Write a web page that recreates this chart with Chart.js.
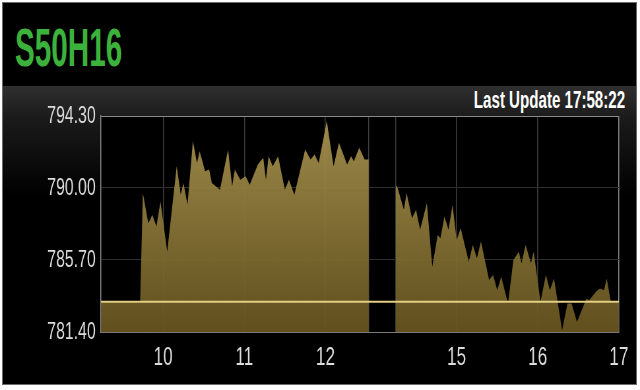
<!DOCTYPE html>
<html><head><meta charset="utf-8">
<script src="https://cdn.jsdelivr.net/npm/chart.js@4.4.1/dist/chart.umd.min.js"></script>
<style>
html,body{margin:0;padding:0;background:#fff;width:640px;height:390px;overflow:hidden;}
#panel{position:absolute;left:2px;top:2px;width:633px;height:381px;background:#000;border:1px solid #6a6a6a;}
#band{position:absolute;left:3px;top:86px;width:633px;height:110px;background:linear-gradient(#2f2f2f,#1a1a1a 30%,#000 100%);}
#title{position:absolute;left:15px;top:21px;font:bold 53px 'Liberation Sans',Arial,sans-serif;line-height:1;color:#3cb23c;transform:scaleX(0.56);transform-origin:0 0;white-space:nowrap;}
#upd{position:absolute;right:15px;top:88px;font:bold 24px 'Liberation Sans',Arial,sans-serif;line-height:1;color:#fff;transform:scaleX(0.63);transform-origin:100% 0;white-space:nowrap;}
#wrap{position:absolute;left:0;top:0;width:970px;height:390px;transform:scaleX(0.65979);transform-origin:0 0;}
</style></head>
<body>
<div id="panel"></div>
<div id="band"></div>
<div id="title">S50H16</div>
<div id="upd">Last Update 17:58:22</div>
<div id="wrap"><canvas id="c"></canvas></div>
<script>
// ---- data ----
const TIMES_AM = ["09:14","09:43","09:45","09:49","09:52","09:55","09:58","10:03","10:10","10:13","10:15","10:18","10:22","10:25","10:27","10:31","10:34","10:36","10:42","10:48","10:51","10:53","10:57","11:01","11:04","11:10","11:14","11:16","11:18","11:21","11:25","11:30","11:33","11:37","11:45","11:49","11:52","11:55","12:01","12:06","12:10","12:16","12:19","12:21","12:25","12:29","12:32"];
const PRICES_AM = [783.2,783.2,789.7,787.9,788.4,787.7,789.2,786.2,791.3,789.6,790.3,789.0,792.8,791.5,792.2,791.0,791.1,790.3,789.9,792.3,790.1,791.1,790.5,790.7,790.2,791.4,791.8,790.5,791.9,791.3,791.9,789.9,790.5,789.6,792.3,791.7,792.0,791.5,794.0,791.3,792.7,791.4,791.9,791.6,792.4,791.7,791.7];
const TIMES_PM = ["14:15","14:16","14:21","14:23","14:27","14:30","14:33","14:38","14:42","14:46","14:48","14:51","14:54","14:57","15:00","15:03","15:09","15:12","15:15","15:18","15:24","15:27","15:30","15:33","15:38","15:42","15:46","15:48","15:51","15:55","15:57","16:02","16:06","16:09","16:12","16:18","16:22","16:25","16:29","16:36","16:38","16:43","16:46","16:49","16:51","16:54","17:00"];
const PRICES_PM = [790.1,790.1,788.7,789.7,788.2,788.7,787.5,789.1,785.3,787.2,787.0,788.3,787.5,789.0,786.9,787.6,785.6,786.6,785.8,786.8,784.5,784.8,783.9,784.7,783.1,785.7,786.2,785.5,786.6,785.5,786.2,783.2,784.8,783.9,784.6,781.5,783.1,783.1,782.0,783.4,783.3,783.8,784.0,783.9,784.6,783.2,783.2];
const REF_PRICE = 783.2;
const Y_TICKS = [781.40, 785.70, 790.00, 794.30];
const X_TICK_TIMES = ["10:00","11:00","12:00","15:00","16:00","17:00"];
const X_TICK_LABELS = ["10","11","12","15","16","17"];
const BREAK_START = "12:32", BREAK_END = "14:15";
const AXIS_START = "09:14", AXIS_END = "17:00";
const BREAK_SHIFT = 83; // minutes of lunch break hidden on the axis

function toAxis(t){
  const [h,m] = t.split(":").map(Number);
  let v = h*60 + m - 540;
  if (v >= 300) v -= BREAK_SHIFT;
  return v;
}

const pricePts = [];
TIMES_AM.forEach((t,i)=>pricePts.push({x:toAxis(t), y:PRICES_AM[i]}));
pricePts.push({x:(toAxis(BREAK_START)+toAxis(BREAK_END))/2, y:null});
TIMES_PM.forEach((t,i)=>pricePts.push({x:toAxis(t), y:PRICES_PM[i]}));

const xTickVals = X_TICK_TIMES.map(toAxis).concat([toAxis(BREAK_START), toAxis(BREAK_END)]).sort((a,b)=>a-b);
const xMin = toAxis(AXIS_START), xMax = toAxis(AXIS_END);
const yMin = Y_TICKS[0], yMax = Y_TICKS[Y_TICKS.length-1];

const plotBg = {
  id:'plotBg',
  beforeDraw(chart){
    const {ctx, chartArea:a} = chart;
    ctx.save(); ctx.fillStyle = '#000';
    ctx.fillRect(a.left, a.top, a.right-a.left, a.bottom-a.top);
    ctx.restore();
  }
};

function fillGrad(ctx){
  const a = ctx.chart.chartArea;
  if (!a) return 'rgba(140,120,60,0.92)';
  const g = ctx.chart.ctx.createLinearGradient(0, a.top, 0, a.bottom);
  g.addColorStop(0, 'rgba(170,148,80,0.93)');
  g.addColorStop(1, 'rgba(104,86,32,0.93)');
  return g;
}

const FONT = "'Liberation Sans', Arial, sans-serif";

new Chart(document.getElementById('c'), {
  type: 'line',
  data: {
    datasets: [
      { data: [{x:xMin, y:REF_PRICE},{x:xMax, y:REF_PRICE}], borderColor:'#e2cf84', borderWidth:2, pointRadius:0, fill:false },
      { data: pricePts, borderWidth:0, borderColor:'rgba(0,0,0,0)', pointRadius:0, fill:'start', backgroundColor: fillGrad, spanGaps:false, tension:0 }
    ]
  },
  options: {
    responsive:true, maintainAspectRatio:false, animation:false,
    events: [],
    layout: { padding: { left:0, right:32, top:116, bottom:0 } },
    plugins: { legend:{display:false}, tooltip:{enabled:false}, title:{display:false} },
    scales: {
      x: {
        type:'linear', min:xMin, max:xMax,
        afterBuildTicks(s){ s.ticks = xTickVals.map(v=>({value:v})); },
        afterFit(s){ s.height = 58; },
        ticks: {
          autoSkip:false, maxRotation:0, color:'#dcdcdc', padding:10,
          font:{ family:FONT, size:26 },
          callback(v){ const i = X_TICK_TIMES.map(toAxis).indexOf(v); return i>=0 ? X_TICK_LABELS[i] : ''; }
        },
        grid: { drawTicks:false, lineWidth:1.5, color(c){ return (c.tick && c.tick.value===xMax) ? '#8a8a8a' : '#3e3e3e'; } },
        border: { display:true, color:'#7a7a7a', width:1 }
      },
      y: {
        type:'linear', min:yMin, max:yMax,
        afterBuildTicks(s){ s.ticks = Y_TICKS.map(v=>({value:v})); },
        afterFit(s){ s.width = 153; },
        ticks: { color:'#dcdcdc', padding:8, font:{ family:FONT, size:24 }, callback(v){ return Number(v).toFixed(2); } },
        grid: { drawTicks:false, lineWidth:1, color(c){ return (c.tick && c.tick.value===yMax) ? '#8a8a8a' : '#2e2e2e'; } },
        border: { display:true, color:'#8a8a8a', width:1.5 }
      }
    }
  },
  plugins:[plotBg]
});
</script>
</body></html>
